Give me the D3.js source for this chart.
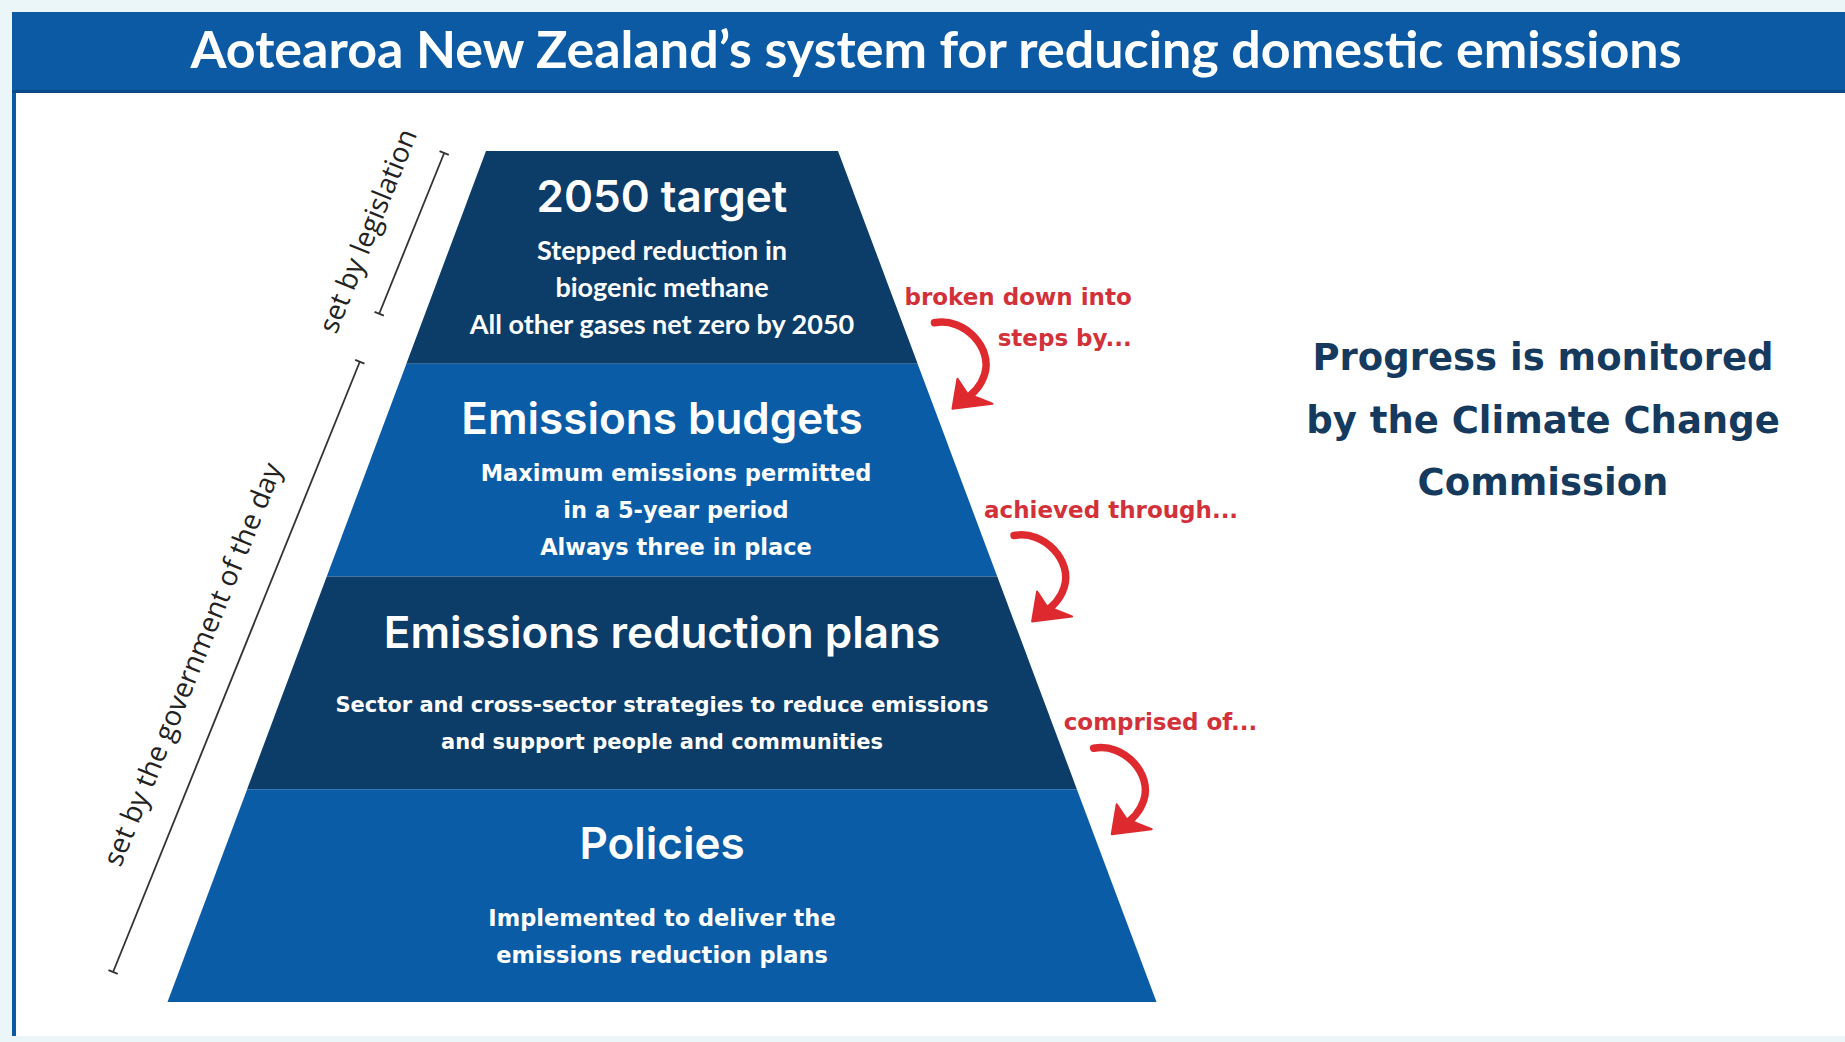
<!DOCTYPE html>
<html>
<head>
<meta charset="utf-8">
<script src="https://cdn.jsdelivr.net/npm/d3@7"></script>
<style>
    body { margin: 0; background: #eaf6f8; }
    svg { display: block; }
</style>
</head>
<body>
<svg width="1845" height="1042"></svg>
<script>
// chart text / values
var title = "Aotearoa New Zealand\u2019s system for reducing domestic emissions"
var tiers = ["2050 target", "Emissions budgets", "Emissions reduction plans", "Policies"]
var tierNotes = [
    ["Stepped reduction in", "biogenic methane", "All other gases net zero by 2050"],
    ["Maximum emissions permitted", "in a 5-year period", "Always three in place"],
    ["Sector and cross-sector strategies to reduce emissions", "and support people and communities"],
    ["Implemented to deliver the", "emissions reduction plans"]
]
var links = [["broken down into", "steps by..."], ["achieved through..."], ["comprised of..."]]
var spanLabels = ["set by legislation", "set by the government of the day"]
var spanFrom = [0, 1]
var spanTo = [1, 4]
var monitor = ["Progress is monitored", "by the Climate Change", "Commission"]

var svg = d3.select('svg')
var W = 1845, H = 1042
var wide = 'DejaVu Sans'

// frame + header
svg.append('rect').attr('x', 12).attr('y', 93).attr('width', W - 12).attr('height', 943).attr('fill', '#fff')
svg.append('rect').attr('x', 12).attr('y', 93).attr('width', 4).attr('height', 943).attr('fill', '#0b5aa3')
svg.append('rect').attr('x', 12).attr('y', 12).attr('width', W - 12).attr('height', 81).attr('fill', '#0b5aa3')
svg.append('rect').attr('x', 12).attr('y', 90).attr('width', W - 12).attr('height', 3).attr('fill', '#0a4a86')
svg.append('text')
    .attr('x', 936).attr('y', 68)
    .attr('text-anchor', 'middle')
    .style('font-family', 'Lato').style('font-weight', 700).style('font-size', '52px')
    .attr('fill', '#fff')
    .text(title)

// pyramid
var cx = 662
var yTier = d3.scaleLinear().domain([0, tiers.length]).range([151, 1002])
var half = d3.scaleLinear().domain(yTier.range()).range([176, 494.5])
var fills = ['#0c3c68', '#0b5ca6']
var lineFunc = d3.line()

var tierG = svg.selectAll('g.tier').data(tiers).enter().append('g').attr('class', 'tier')
tierG.append('path')
    .attr('d', function(d, i) {
	var y0 = yTier(i), y1 = yTier(i + 1)
	return lineFunc([[cx - half(y0), y0], [cx + half(y0), y0], [cx + half(y1), y1], [cx - half(y1), y1]]) + 'Z'
    })
    .attr('fill', function(d, i) { return fills[i % 2] })

// per tier text placement (heading offset, first note offset, note shift, note size)
var headOff = [61, 70, 71, 70]
var noteOff = [109, 117, 135, 137]
var noteDx = [0, 14, 0, 0]
var noteSize = [27, 22.5, 21, 22.5]
tierG.append('text')
    .attr('x', cx)
    .attr('y', function(d, i) { return yTier(i) + headOff[i] })
    .attr('text-anchor', 'middle')
    .style('font-family', 'Inter').style('font-weight', 600).style('font-size', '44px')
    .attr('fill', '#fff')
    .text(function(d) { return d })
tierG.each(function(d, i) {
    d3.select(this).selectAll('text.note').data(tierNotes[i]).enter().append('text')
	.attr('class', 'note')
	.attr('x', cx + noteDx[i])
	.attr('y', function(n, j) { return yTier(i) + noteOff[i] + j * 37 })
	.attr('text-anchor', 'middle')
	.style('font-family', i == 0 ? 'Lato' : wide)
	.style('font-weight', 700)
	.style('font-size', noteSize[i] + 'px')
	.attr('fill', '#fff')
	.text(function(n) { return n })
})

// red connectors on the right side
var red = '#de2a2f'
links.forEach(function(lines, k) {
    var yb = yTier(k + 1) + 45
    var tx = cx + half(yb) + 18, ty = yb
    var g = svg.append('g').attr('transform', 'translate(' + tx + ',' + ty + ')')
    var p = d3.path()
    p.moveTo(-18, -86)
    p.bezierCurveTo(12, -92, 41, -60, 32, -34)
    p.quadraticCurveTo(27, -18, 10, -8)
    g.append('path').attr('d', p.toString())
	.attr('fill', 'none').attr('stroke', red).attr('stroke-width', 7.5).attr('stroke-linecap', 'round')
    g.append('path')
	.attr('d', lineFunc([[0, 0], [5, -30], [15, -15], [40, -5]]) + 'Z')
	.attr('fill', red).attr('stroke', red).attr('stroke-width', 2).attr('stroke-linejoin', 'round')
    var first = g.append('text')
	.attr('x', -48).attr('y', -104)
	.style('font-family', wide).style('font-weight', 700).style('font-size', '23px')
	.attr('fill', '#d3313a')
	.text(lines[0])
    if (lines[1]) {
	var w = first.node().getComputedTextLength()
	g.append('text')
	    .attr('x', -48 + w).attr('y', -63)
	    .attr('text-anchor', 'end')
	    .style('font-family', wide).style('font-weight', 700).style('font-size', '23px')
	    .attr('fill', '#d3313a')
	    .text(lines[1])
    }
})

// brackets on the left side
function bx(y) { return cx - half(y) - (41 + 0.03 * (y - 151)) }
var spanTop = [2, -2], spanBot = [-50, -30]
spanLabels.forEach(function(label, i) {
    var y0 = yTier(spanFrom[i]) + spanTop[i], y1 = yTier(spanTo[i]) + spanBot[i]
    var x0 = bx(y0), x1 = bx(y1)
    var len = Math.hypot(x1 - x0, y1 - y0)
    var ang = Math.atan2(y0 - y1, x0 - x1) * 180 / Math.PI
    var g = svg.append('g')
	.attr('transform', 'translate(' + x1 + ',' + y1 + ') rotate(' + ang + ')')
    g.append('path').attr('d', lineFunc([[0, 0], [len, 0]]))
	.attr('stroke', '#333').attr('stroke-width', 1.8)
    g.selectAll('path.tick').data([0, len]).enter().append('path')
	.attr('class', 'tick')
	.attr('d', function(d) { return lineFunc([[d, -5], [d, 5]]) })
	.attr('stroke', '#333').attr('stroke-width', 1.8)
    g.append('text')
	.attr('x', len / 2 - 14).attr('y', -32)
	.attr('text-anchor', 'middle')
	.style('font-family', 'Open Sans').style('font-size', '28px')
	.attr('fill', '#222')
	.text(label)
})

// monitoring note
svg.selectAll('text.monitor').data(monitor).enter().append('text')
    .attr('class', 'monitor')
    .attr('x', 1543)
    .attr('y', function(d, i) { return 370 + i * 62.5 })
    .attr('text-anchor', 'middle')
    .style('font-family', wide).style('font-weight', 700).style('font-size', '37px')
    .attr('fill', '#153a5e')
    .text(function(d) { return d })
</script>
</body>
</html>
